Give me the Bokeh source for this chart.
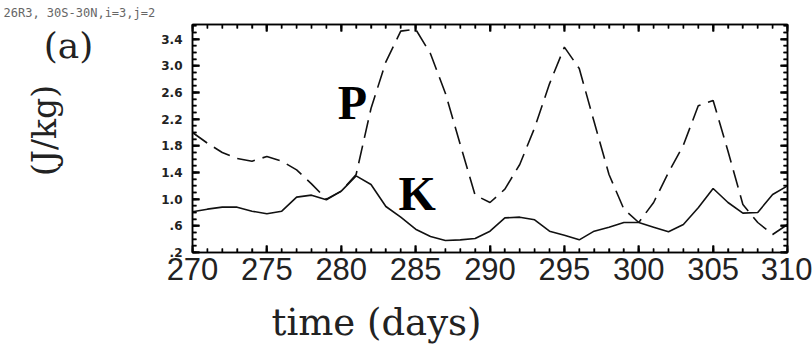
import math
from bokeh.plotting import figure
from bokeh.models import (LinearAxis, FixedTicker, SingleIntervalTicker, Label,
                          CustomJSTickFormatter, Range1d, CustomLabelingPolicy)
from bokeh.layouts import row, column
from bokeh.embed import file_html
from bokeh.resources import INLINE

# ---------------- data ----------------
days = [270, 271, 272, 273, 274, 275, 276, 277, 278, 279, 280,
        281, 282, 283, 284, 285, 286, 287, 288, 289, 290,
        291, 292, 293, 294, 295, 296, 297, 298, 299, 300,
        301, 302, 303, 304, 305, 306, 307, 308, 309, 310]

K_energy = [0.81, 0.85, 0.88, 0.88, 0.82, 0.78, 0.82, 1.03, 1.06, 0.99, 1.12,
            1.35, 1.22, 0.89, 0.73, 0.55, 0.44, 0.38, 0.39, 0.41, 0.52,
            0.72, 0.73, 0.69, 0.52, 0.46, 0.39, 0.52, 0.58, 0.65, 0.65,
            0.58, 0.51, 0.62, 0.87, 1.16, 0.95, 0.79, 0.80, 1.07, 1.20]

P_energy = [2.00, 1.84, 1.70, 1.61, 1.57, 1.64, 1.57, 1.44, 1.23, 1.00, 1.12,
            1.37, 2.36, 3.06, 3.52, 3.55, 3.18, 2.59, 1.82, 1.06, 0.95,
            1.15, 1.52, 2.07, 2.73, 3.28, 2.96, 2.16, 1.37, 0.85, 0.65,
            0.95, 1.40, 1.81, 2.40, 2.48, 1.72, 0.92, 0.65, 0.47, 0.62]

x_ticks = [270, 275, 280, 285, 290, 295, 300, 305, 310]
y_ticks = [0.2, 0.6, 1.0, 1.4, 1.8, 2.2, 2.6, 3.0, 3.4]
y_minor = [0.2, 0.3, 0.4, 0.5, 0.6, 0.7, 0.8, 0.9, 1.0, 1.1, 1.2, 1.3, 1.4, 1.5,
           1.6, 1.7, 1.8, 1.9, 2.0, 2.1, 2.2, 2.3, 2.4, 2.5, 2.6, 2.7, 2.8, 2.9,
           3.0, 3.1, 3.2, 3.3, 3.4, 3.5, 3.6]

caption = "26R3, 30S-30N,i=3,j=2"
serif = "DejaVu Serif"

X0, X1 = 270, 310
Y0, Y1 = 0.2, 3.62


def text_fig(w, h):
    f = figure(width=w, height=h, output_backend="svg", toolbar_location=None,
               x_axis_type=None, y_axis_type=None, min_border=0,
               x_range=Range1d(0, 1), y_range=Range1d(0, 1))
    f.outline_line_color = None
    f.xgrid.visible = False
    f.ygrid.visible = False
    f.background_fill_color = "white"
    f.border_fill_color = "white"
    return f


# ---------------- top strip: caption ----------------
top_fig = text_fig(812, 20)
top_fig.add_layout(Label(x=3, y=15, x_units="screen", y_units="screen", text=caption,
                         text_font="DejaVu Sans Mono", text_font_size="12px",
                         text_color="#666666", text_align="left", text_baseline="top"))

# ---------------- left strip: (a), (J/kg)  (frame synced with main plot frame) ----------------
left_fig = text_fig(142, 278)
left_fig.add_layout(Label(x=68, y=207, x_units="screen", y_units="screen", text="(a)",
                          text_font=serif, text_font_size="36px", text_color="#222222",
                          text_align="center", text_baseline="middle"))
left_fig.add_layout(Label(x=44, y=122, x_units="screen", y_units="screen", text="(J/kg)",
                          angle=math.pi / 2, text_font=serif, text_font_size="33px",
                          text_color="#222222", text_align="center", text_baseline="middle"))

# ---------------- main plot ----------------
p = figure(width=670, height=278, output_backend="svg", toolbar_location=None,
           x_range=Range1d(X0, X1), y_range=Range1d(Y0, Y1),
           min_border_left=50, min_border_right=25,
           min_border_top=2, min_border_bottom=46)
p.xgrid.visible = False
p.ygrid.visible = False
p.outline_line_color = "black"
p.outline_line_width = 1.5
p.background_fill_color = "white"
p.border_fill_color = "white"

xticker = SingleIntervalTicker(interval=5, num_minor_ticks=5)
yticker = FixedTicker(ticks=y_ticks, minor_ticks=y_minor)

hide_all = CustomLabelingPolicy(code="for (const i of [...indices]) { indices.unset(i) } return indices")

maj_len, min_len = 7.0, 4.0
maj_w, min_w = 1.8, 1.4


def style_axis(ax, show_labels):
    ax.axis_line_color = "black"
    ax.axis_line_width = 1.5
    ax.major_tick_in = int(maj_len)
    ax.major_tick_out = 0
    ax.minor_tick_in = int(min_len)
    ax.minor_tick_out = 0
    ax.major_tick_line_color = "black"
    ax.minor_tick_line_color = "black"
    ax.major_tick_line_width = maj_w
    ax.minor_tick_line_width = min_w
    if not show_labels:
        ax.major_label_policy = hide_all
        ax.major_label_text_font_size = "2px"
        ax.major_label_standoff = 0


xa = p.xaxis[0]
xa.ticker = xticker
style_axis(xa, True)
xa.major_label_text_font = "Liberation Sans"
xa.major_label_text_font_size = "31px"
xa.major_label_text_color = "#222222"
xa.major_label_standoff = 5

ya = p.yaxis[0]
ya.ticker = yticker
style_axis(ya, True)
ya.formatter = CustomJSTickFormatter(code="return tick.toFixed(1).replace(/^0\\./, '.');")
ya.major_label_text_font = "DejaVu Sans"
ya.major_label_text_font_style = "bold"
ya.major_label_text_font_size = "12px"
ya.major_label_text_color = "#222222"
ya.major_label_standoff = 10

top_ax = LinearAxis(ticker=xticker)
style_axis(top_ax, False)
p.add_layout(top_ax, "above")

right_ax = LinearAxis(ticker=yticker)
style_axis(right_ax, False)
p.add_layout(right_ax, "right")

# ---- inward tick marks along each frame edge (at the tick positions above) ----
px_per_x = 595.0 / (X1 - X0)
px_per_y = 230.0 / (Y1 - Y0)


def edge_ticks(xpos, ypos, length, width, color):
    dy = length / px_per_y
    dx = length / px_per_x
    n = len(xpos)
    p.segment(x0=xpos, y0=[Y0] * n, x1=xpos, y1=[Y0 + dy] * n,
              line_color=color, line_width=width)
    p.segment(x0=xpos, y0=[Y1] * n, x1=xpos, y1=[Y1 - dy] * n,
              line_color=color, line_width=width)
    m = len(ypos)
    p.segment(x0=[X0] * m, y0=ypos, x1=[X0 + dx] * m, y1=ypos,
              line_color=color, line_width=width)
    p.segment(x0=[X1] * m, y0=ypos, x1=[X1 - dx] * m, y1=ypos,
              line_color=color, line_width=width)


edge_ticks(days, y_minor, min_len, min_w, "black")
edge_ticks(x_ticks, y_ticks, maj_len, maj_w, "black")

# ---------------- series ----------------
p.line(days, P_energy, line_color="#111111", line_width=1.6, line_dash="18 8")
p.line(days, K_energy, line_color="#111111", line_width=1.6)

p.add_layout(Label(x=280.75, y=2.45, text="P", text_font="Liberation Serif",
                   text_font_style="bold", text_font_size="48px", text_color="black",
                   text_align="center", text_baseline="middle"))
p.add_layout(Label(x=285.1, y=1.09, text="K", text_font="Liberation Serif",
                   text_font_style="bold", text_font_size="48px", text_color="black",
                   text_align="center", text_baseline="middle"))

# ---------------- bottom strip: x label ----------------
bottom_fig = text_fig(812, 46)
bottom_fig.add_layout(Label(x=376, y=22, x_units="screen", y_units="screen", text="time (days)",
                            text_font=serif, text_font_size="37px", text_color="#222222",
                            text_align="center", text_baseline="middle"))

layout = column(top_fig, row(left_fig, p), bottom_fig)

open("out.html", "w").write(file_html(layout, INLINE))
